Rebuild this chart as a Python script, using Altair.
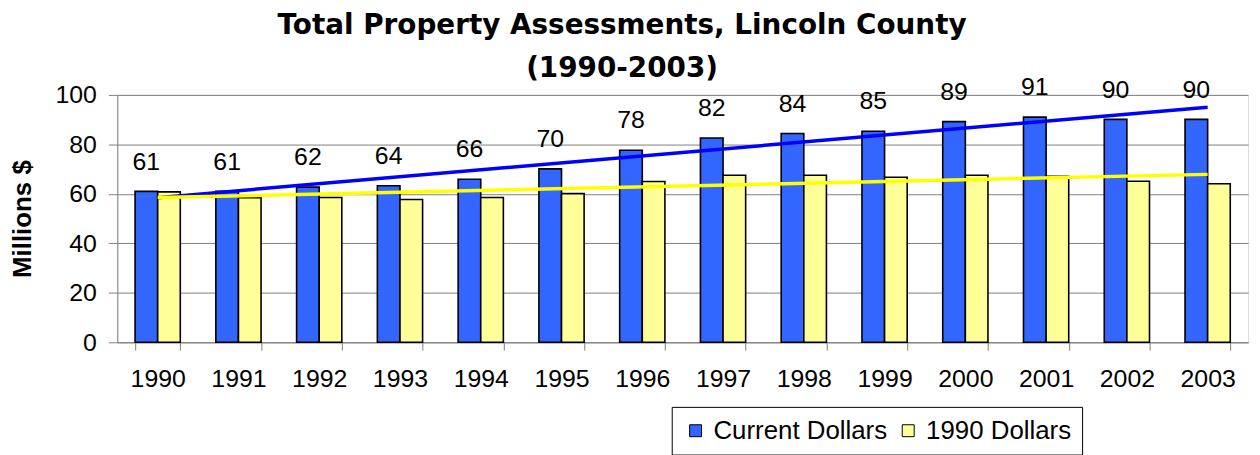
import altair as alt
import pandas as pd

years = [str(y) for y in range(1990, 2004)]
current_dollars = [61.0, 61.0, 62.7, 63.3, 65.9, 70.1, 77.6, 82.6, 84.4, 85.3, 89.2, 91.0, 90.1, 90.1]
dollars_1990 = [60.8, 58.4, 58.5, 57.7, 58.5, 60.1, 65.0, 67.5, 67.5, 66.7, 67.5, 67.1, 65.1, 64.1]
current_labels = [61, 61, 62, 64, 66, 70, 78, 82, 84, 85, 89, 91, 90, 90]
series_names = ["Current Dollars", "1990 Dollars"]

rows = []
for i, y in enumerate(years):
    rows.append({"year": y, "idx": i, "series": series_names[0], "value": current_dollars[i], "label": current_labels[i]})
    rows.append({"year": y, "idx": i, "series": series_names[1], "value": dollars_1990[i], "label": None})
df = pd.DataFrame(rows)

FONT = "Liberation Sans"

x_enc = alt.X("year:N", title=None, sort=years,
              scale=alt.Scale(paddingInner=0.44, paddingOuter=0.22),
              axis=alt.Axis(labelAngle=0, labelFontSize=25, labelFont=FONT, labelColor="black",
                            tickBand="extent", tickSize=8, tickColor="#808080",
                            domainColor="#808080", labelPadding=17, grid=False))
xoff = alt.XOffset("series:N", scale=alt.Scale(domain=series_names), sort=series_names)
y_enc = alt.Y("value:Q", title="Millions $",
              scale=alt.Scale(domain=[0, 100], nice=False),
              axis=alt.Axis(values=[0, 20, 40, 60, 80, 100], labelFontSize=25, labelFont=FONT,
                            labelColor="black", titleFontSize=26, titleFont=FONT,
                            titleFontWeight="bold", titleColor="black", titlePadding=20,
                            tickSize=9, tickColor="#808080", domainColor="#808080",
                            gridColor="#808080", labelPadding=12))

base = alt.Chart(df)

bars = base.mark_bar(stroke="black", strokeWidth=1.6).encode(
    x=x_enc,
    xOffset=xoff,
    y=y_enc,
    color=alt.Color("series:N", sort=series_names,
                    scale=alt.Scale(domain=series_names, range=["#3366FF", "#FFFF99"]),
                    legend=alt.Legend(title=None, orient="none", legendX=558, legendY=314,
                                      direction="horizontal", columns=2,
                                      symbolType="square", symbolSize=144,
                                      symbolStrokeColor="black", symbolStrokeWidth=1,
                                      labelFontSize=26, labelFont=FONT, labelColor="black",
                                      labelLimit=400,
                                      strokeColor="black", padding=11, columnPadding=8,
                                      labelOffset=5)),
)

text = base.transform_filter(alt.datum.series == "Current Dollars").mark_text(
    fontSize=25, font=FONT, color="black", baseline="middle", dy=-30
).encode(
    x=alt.X("year:N", sort=years),
    xOffset=xoff,
    y=alt.Y("value:Q"),
    text=alt.Text("label:Q"),
)

xq = alt.X("idx:Q", scale=alt.Scale(domain=[-0.5, 13.5], nice=False, zero=False), axis=None)

trend_cur = base.transform_filter(alt.datum.series == "Current Dollars").transform_regression(
    "idx", "value"
).mark_line(color="#0000FF", strokeWidth=3.5).encode(x=xq, y=alt.Y("value:Q"))

trend_90 = base.transform_filter(alt.datum.series == "1990 Dollars").transform_regression(
    "idx", "value"
).mark_line(color="#FFFF00", strokeWidth=3.5).encode(x=xq, y=alt.Y("value:Q"))

bar_layer = alt.layer(bars, text)

chart = alt.layer(bar_layer, trend_cur, trend_90).resolve_scale(x="independent").properties(
    width=1138, height=249,
    title=alt.TitleParams(
        text=["Total Property Assessments, Lincoln County", "(1990-2003)"],
        fontSize=28, font="DejaVu Sans", fontWeight="bold", color="black",
        anchor="middle", frame="group", dx=-61, lineHeight=44, offset=-8),
    autosize=alt.AutoSizeParams(type="none"),
    padding={"left": 110, "top": 86, "right": 4, "bottom": 112},
).configure_view(stroke=None).configure(background="white")

chart.save("out.html", embed_options={"renderer": "svg", "actions": False})
